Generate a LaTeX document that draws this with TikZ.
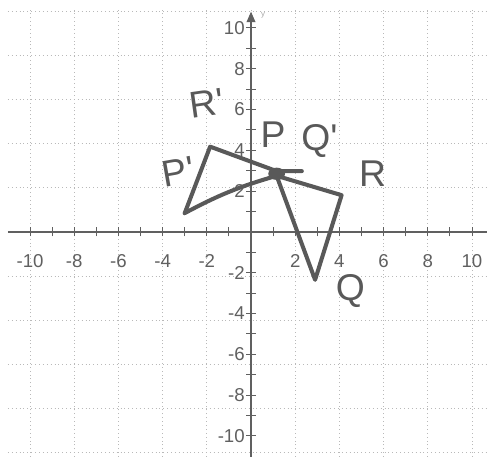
\documentclass[tikz,border=0pt]{standalone}
\usepackage{fontspec}
\setsansfont{Liberation Sans}
\newfontfamily\handfont{Liberation Sans}
\usetikzlibrary{arrows.meta}

\begin{document}
\begin{tikzpicture}[x=0.5cm,y=0.4615cm,
    gridline/.style={gray!55, dotted, line width=0.5pt},
    axisline/.style={gray!75!black, line width=0.8pt},
    tickmark/.style={gray!75!black, line width=0.6pt},
    ticklabel/.style={font=\sffamily\large, text=gray!75!black, inner sep=1pt},
    stroke/.style={gray!70!black, line width=2.6pt, line cap=round, line join=round},
    hand/.style={font=\handfont\fontsize{24}{24}\selectfont, text=gray!70!black, inner sep=0pt}
  ]
  \useasboundingbox (-11.36,-11.03) rectangle (10.68,11.37);
  \fill[white] (-11.36,-11.03) rectangle (10.68,11.37);
  \draw[gridline] (-11,-11.03) grid (10.68,11);

  \draw[axisline] (-11,0) -- (10.68,0);
  \draw[axisline,-{Triangle[length=2.4mm,width=2mm]}] (0,-11.03) -- (0,10.8);
  \node[font=\sffamily\tiny, text=gray!70] (ylabel) at (0.55,10.6) {y};
  \foreach \k in {-10,...,-1,1,2,...,10} {
    \draw[tickmark] (\k,-0.22) -- (\k,0.22);
    \draw[tickmark] (-0.22,\k) -- (0.22,\k);
  }
  \foreach \k in {-10,-8,-6,-4,-2,2,4,6,8,10} {
    \node[ticklabel] (xl\k) at (\k,-1.45) {\k};
    \node[ticklabel, anchor=east] (yl\k) at (-0.2,\k) {\k};
  }

  \coordinate (P) at (1.16,2.75);
  \coordinate (Q) at (2.9,-2.35);
  \coordinate (R) at (4.1,1.8);
  \coordinate (P1) at (-3.0,0.92);
  \coordinate (R1) at (-1.85,4.18);
  \coordinate (Pt) at (1.16,2.98);
  \coordinate (Q1) at (2.3,2.98);

  \draw[stroke] (P) -- (R) -- (Q) -- cycle;
  \draw[stroke] (P1) -- (R1) -- (Pt) -- (Q1);
  \draw[stroke] (P1) to[bend left=6] (P);
  \fill[gray!70!black] (1.16,2.85) ellipse (0.38 and 0.3);

  \node[hand, rotate=8] (labR1) at (-2.0,6.3) {R\textquotesingle};
  \node[hand] (labP) at (1.0,4.75) {P};
  \node[hand] (labQ1) at (3.1,4.45) {Q\textquotesingle};
  \node[hand] (labR) at (5.5,2.85) {R};
  \node[hand] (labQ) at (4.5,-2.9) {Q};
  \node[hand, rotate=10] (labP1) at (-3.3,2.95) {P\textquotesingle};
\end{tikzpicture}
\end{document}
